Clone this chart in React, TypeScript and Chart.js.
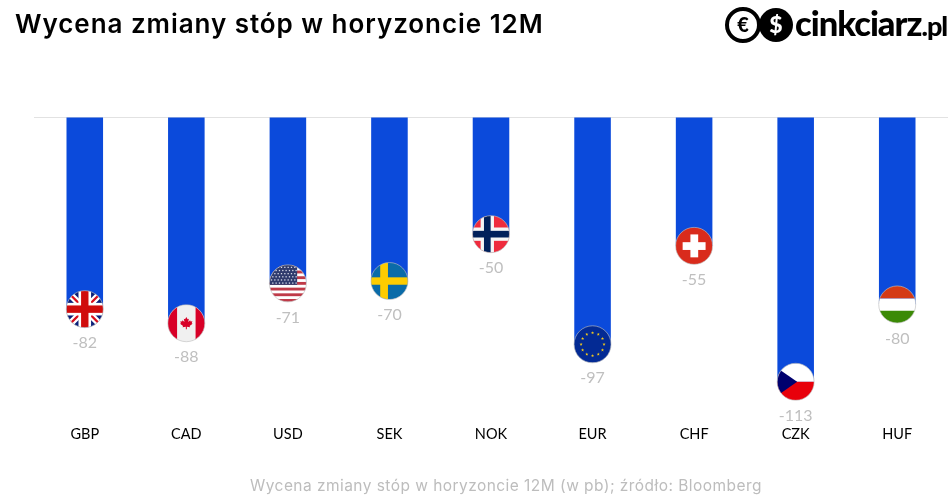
import React, { useEffect, useRef } from "react";
import { Chart, registerables } from "chart.js";

Chart.register(...registerables);

const categories = ["GBP", "CAD", "USD", "SEK", "NOK", "EUR", "CHF", "CZK", "HUF"];
const values = [-82, -88, -71, -70, -50, -97, -55, -113, -80];
const titleText = "Wycena zmiany stóp w horyzoncie 12M";
const footerText = "Wycena zmiany stóp w horyzoncie 12M (w pb); źródło: Bloomberg";

type C = CanvasRenderingContext2D;

function star(c: C, x: number, y: number, r: number, col: string) {
  c.fillStyle = col;
  c.beginPath();
  for (let i = 0; i < 10; i++) {
    const a = -Math.PI / 2 + (i * Math.PI) / 5;
    const q = i % 2 ? r * 0.42 : r;
    c.lineTo(x + q * Math.cos(a), y + q * Math.sin(a));
  }
  c.closePath();
  c.fill();
}

const leaf: [number, number][] = [
  [0, -0.52], [0.1, -0.34], [0.2, -0.38], [0.15, -0.12], [0.3, -0.26], [0.34, -0.16], [0.48, -0.18],
  [0.43, -0.03], [0.5, 0.02], [0.26, 0.2], [0.3, 0.3], [0.04, 0.26], [0.04, 0.46], [-0.04, 0.46],
  [-0.04, 0.26], [-0.3, 0.3], [-0.26, 0.2], [-0.5, 0.02], [-0.43, -0.03], [-0.48, -0.18], [-0.34, -0.16],
  [-0.3, -0.26], [-0.15, -0.12], [-0.2, -0.38], [-0.1, -0.34],
];

const flags: Record<string, (c: C, r: number) => void> = {
  GBP(c, r) {
    c.fillStyle = "#0a1f78";
    c.fillRect(-r, -r, 2 * r, 2 * r);
    c.strokeStyle = "#fff";
    c.lineWidth = r * 0.36;
    c.beginPath();
    c.moveTo(-r, -r); c.lineTo(r, r); c.moveTo(r, -r); c.lineTo(-r, r);
    c.stroke();
    c.strokeStyle = "#d80e1c";
    c.lineWidth = r * 0.12;
    c.beginPath();
    c.moveTo(-r, -r); c.lineTo(r, r); c.moveTo(r, -r); c.lineTo(-r, r);
    c.stroke();
    c.fillStyle = "#fff";
    c.fillRect(-r, -r * 0.34, 2 * r, r * 0.68);
    c.fillRect(-r * 0.34, -r, r * 0.68, 2 * r);
    c.fillStyle = "#d00c0c";
    c.fillRect(-r, -r * 0.2, 2 * r, r * 0.4);
    c.fillRect(-r * 0.2, -r, r * 0.4, 2 * r);
  },
  CAD(c, r) {
    c.fillStyle = "#f0f0f0";
    c.fillRect(-r, -r, 2 * r, 2 * r);
    c.fillStyle = "#d80027";
    c.fillRect(-r, -r, r * 0.5, 2 * r);
    c.fillRect(r * 0.5, -r, r * 0.5, 2 * r);
    c.beginPath();
    leaf.forEach(([x, y]) => c.lineTo(x * r * 0.68, y * r * 0.68 + r * 0.02));
    c.closePath();
    c.fill();
  },
  USD(c, r) {
    c.fillStyle = "#fff";
    c.fillRect(-r, -r, 2 * r, 2 * r);
    c.fillStyle = "#bf3a48";
    for (let i = 0; i < 7; i++) c.fillRect(-r, -r + (i * 2 * r * 2) / 13, 2 * r, (2 * r) / 13);
    c.fillStyle = "#2f3a6c";
    c.fillRect(-r, -r, r * 1.5, r * 1.08);
    for (let j = 0; j < 6; j++) {
      for (let i = 0; i < 8; i++) {
        c.fillStyle = "#d8dbe8";
        c.fillRect(-r + r * 0.08 + i * r * 0.18 + (j % 2) * 0.07 * r, -r + r * 0.1 + j * r * 0.17, r * 0.07, r * 0.07);
      }
    }
  },
  SEK(c, r) {
    c.fillStyle = "#0a6ba8";
    c.fillRect(-r, -r, 2 * r, 2 * r);
    c.fillStyle = "#fecc00";
    c.fillRect(-r, -r * 0.2, 2 * r, r * 0.4);
    c.fillRect(-r * 0.5, -r, r * 0.42, 2 * r);
  },
  NOK(c, r) {
    c.fillStyle = "#ef2b3d";
    c.fillRect(-r, -r, 2 * r, 2 * r);
    c.fillStyle = "#f5f5f5";
    c.fillRect(-r, -r * 0.36, 2 * r, r * 0.72);
    c.fillRect(-r * 0.56, -r, r * 0.72, 2 * r);
    c.fillStyle = "#00205b";
    c.fillRect(-r, -r * 0.18, 2 * r, r * 0.36);
    c.fillRect(-r * 0.38, -r, r * 0.36, 2 * r);
  },
  EUR(c, r) {
    c.fillStyle = "#032a94";
    c.fillRect(-r, -r, 2 * r, 2 * r);
    for (let i = 0; i < 12; i++) {
      const a = (i * Math.PI) / 6;
      star(c, Math.cos(a) * r * 0.62, Math.sin(a) * r * 0.62, r * 0.09, "#f5cb1a");
    }
  },
  CHF(c, r) {
    c.fillStyle = "#d92b1c";
    c.fillRect(-r, -r, 2 * r, 2 * r);
    c.fillStyle = "#fff";
    c.fillRect(-r * 0.62, -r * 0.2, r * 1.24, r * 0.42);
    c.fillRect(-r * 0.2, -r * 0.62, r * 0.42, r * 1.24);
  },
  CZK(c, r) {
    c.fillStyle = "#fff";
    c.fillRect(-r, -r, 2 * r, r);
    c.fillStyle = "#e8000b";
    c.fillRect(-r, 0, 2 * r, r);
    c.fillStyle = "#00006e";
    c.beginPath();
    c.moveTo(-r, -r * 0.75);
    c.lineTo(r * 0.08, 0);
    c.lineTo(-r, r * 0.75);
    c.closePath();
    c.fill();
  },
  HUF(c, r) {
    c.fillStyle = "#d43a16";
    c.fillRect(-r, -r, 2 * r, r * 0.68);
    c.fillStyle = "#fff";
    c.fillRect(-r, -r * 0.32, 2 * r, r * 0.66);
    c.fillStyle = "#3b8a06";
    c.fillRect(-r, r * 0.34, 2 * r, r * 0.66);
  },
};

const flagPlugin = {
  id: "flagsAndValues",
  afterDatasetsDraw(chart: any) {
    const { ctx } = chart;
    const meta = chart.getDatasetMeta(0);
    const r = 18.5;
    meta.data.forEach((bar: any, i: number) => {
      ctx.save();
      ctx.translate(bar.x, bar.y);
      ctx.save();
      ctx.beginPath();
      ctx.arc(0, 0, r, 0, Math.PI * 2);
      ctx.clip();
      flags[categories[i]](ctx, r);
      ctx.restore();
      ctx.beginPath();
      ctx.arc(0, 0, r, 0, Math.PI * 2);
      ctx.strokeStyle = "rgba(190,190,190,0.8)";
      ctx.lineWidth = 0.8;
      ctx.stroke();
      ctx.fillStyle = "#bfbfbf";
      ctx.font = "16px Lato";
      ctx.textAlign = "center";
      ctx.textBaseline = "middle";
      ctx.fillText(String(values[i]), 0, 34);
      ctx.restore();
    });
  },
};

function Logo() {
  return (
    <svg width={226} height={50} style={{ position: "absolute", left: 722, top: 0 }}>
      <circle cx={21} cy={25} r={16} fill="#fff" stroke="#000" strokeWidth={4} />
      <text x={21} y={32} textAnchor="middle" fontFamily="Lato" fontWeight={900} fontSize={20} fill="#000">€</text>
      <circle cx={54} cy={25} r={17} fill="#000" />
      <text x={54} y={33} textAnchor="middle" fontFamily="Lato" fontWeight={900} fontSize={23} fill="#fff">$</text>
      <text x={73} y={36} fontFamily="Lato" fontWeight={900} fontSize={34.5} letterSpacing={-1} fill="#000">
        cinkciarz<tspan fontSize={27}>.pl</tspan>
      </text>
    </svg>
  );
}

export default function App() {
  const ref = useRef<HTMLCanvasElement>(null);
  useEffect(() => {
    document.body.style.margin = "0";
    const chart = new Chart(ref.current!, {
      type: "bar",
      data: {
        labels: categories,
        datasets: [{ data: values, backgroundColor: "#0b4adb", barPercentage: 0.36, categoryPercentage: 1 }],
      },
      options: {
        animation: false,
        responsive: false,
        layout: { padding: { left: 34, right: 0, top: 117, bottom: 53 } },
        plugins: { legend: { display: false }, tooltip: { enabled: false } },
        scales: {
          x: {
            grid: { display: false },
            border: { display: false },
            ticks: { color: "#000", font: { family: "Lato", size: 14.5 }, padding: 3, maxRotation: 0 },
          },
          y: {
            display: true,
            min: -127,
            max: 0,
            afterFit(s: any) { s.width = 0; },
            border: { display: false },
            grid: {
              drawTicks: false,
              color: (c: any) => (c.tick && c.tick.value === 0 ? "#e2e2e2" : "transparent"),
            },
            ticks: { display: false, stepSize: 200 },
          },
        },
      },
      plugins: [flagPlugin],
    } as any);
    return () => chart.destroy();
  }, []);
  return (
    <div style={{ position: "relative", width: 948, height: 499, overflow: "hidden", background: "#fff" }}>
      <canvas ref={ref} width={948} height={499} style={{ position: "absolute", left: 0, top: 0 }} />
      <div style={{ position: "absolute", left: 15, top: 8, fontFamily: "Inter", fontWeight: 600, fontSize: 26, letterSpacing: 0.95, color: "#000", whiteSpace: "nowrap" }}>
        {titleText}
      </div>
      <Logo />
      <div style={{ position: "absolute", left: 250, top: 476, fontFamily: "Inter", fontSize: 15.5, letterSpacing: 0.45, color: "#bdbdbd", whiteSpace: "nowrap" }}>
        {footerText}
      </div>
    </div>
  );
}
